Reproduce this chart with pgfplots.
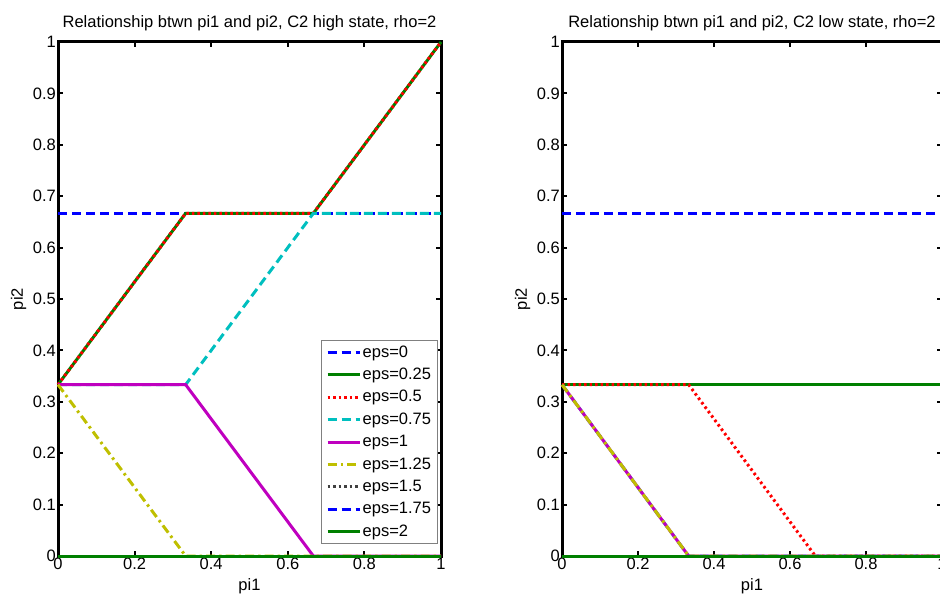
\documentclass[border=0pt]{standalone}
\usepackage{pgfplots}
\pgfplotsset{compat=1.18}
\usepackage{fontspec}
\setmainfont{Liberation Sans}
\definecolor{mb}{rgb}{0,0,1}
\definecolor{mg}{rgb}{0,0.5,0}
\definecolor{mr}{rgb}{1,0,0}
\definecolor{mc}{rgb}{0,0.75,0.75}
\definecolor{mm}{rgb}{0.75,0,0.75}
\definecolor{my}{rgb}{0.75,0.75,0}
\definecolor{mk}{rgb}{0.25,0.25,0.25}
\newcommand{\mfont}{\fontsize{16.5}{18}\selectfont}
\pgfplotsset{
  mlab/.style={
    scale only axis, set layers, clip=false,
    width=#1, height=514pt,
    xmin=0, xmax=1, ymin=0, ymax=1,
    xtick={0,0.2,...,1}, ytick={0,0.1,...,1},
    tick pos=both, xticklabel pos=lower, yticklabel pos=left,
    tick align=inside, major tick length=5pt,
    every tick/.style={black, line width=2pt},
    axis line style={black, line width=3pt},
    /pgf/number format/assume math mode=true,
    tick label style={font=\mfont},
    yticklabel style={inner sep=2pt},
    xticklabel style={inner sep=2pt},
    title style={font=\mfont, at={(0.5,1)}, anchor=south, yshift=2pt},
    xlabel=pi1, ylabel=pi2,
    every axis x label/.style={font=\mfont, at={(ticklabel cs:0.5)}, anchor=north, yshift=-3pt},
    every axis y label/.style={font=\mfont, at={(ticklabel cs:0.5)}, anchor=south, rotate=90, yshift=1pt},
    legend image code/.code={\draw[##1] (0pt,0pt) -- (32pt,0pt);},
    legend cell align=left,
    legend style={font=\mfont, draw=gray, line width=0.8pt,
      row sep=4.4pt, inner xsep=5pt, inner ysep=3pt,
      nodes={inner sep=1.5pt, text height=12pt, text depth=3pt}},
  },
  epsa/.style={draw=mb, line width=3pt, dash pattern=on 9pt off 5pt},
  epsb/.style={draw=mg, line width=3pt, solid},
  epsc/.style={draw=mr, line width=3pt, dash pattern=on 2.5pt off 3pt},
  epsd/.style={draw=mc, line width=3pt, dash pattern=on 9pt off 5pt},
  epse/.style={draw=mm, line width=3pt, solid},
  epsf/.style={draw=my, line width=3pt, dash pattern=on 9pt off 4pt on 2.5pt off 4pt},
  epsg/.style={draw=mk, line width=3pt, dash pattern=on 2.5pt off 3pt},
  epsh/.style={draw=mb, line width=3pt, dash pattern=on 9pt off 5pt},
  epsi/.style={draw=mg, line width=3pt, solid},
}
\begin{document}
\begin{tikzpicture}[x=1pt,y=1pt]
\begin{axis}[mlab=383pt, at={(58pt,42pt)}, anchor=south west,
  title={Relationship btwn pi1 and pi2, C2 high state, rho=2},
  legend style={at={(0.992,0.420)}, anchor=north east}]
\addplot[epsa] coordinates {(0,0.6667) (1,0.6667)};
\addplot[epsb] coordinates {(0,0.3333) (0.3333,0.6667) (0.6667,0.6667) (1,1)};
\addplot[epsc] coordinates {(0,0.3333) (0.3333,0.6667) (0.6667,0.6667) (1,1)};
\addplot[epsd] coordinates {(0,0.3333) (0.3333,0.3333) (0.6667,0.6667) (1,0.6667)};
\addplot[epse] coordinates {(0,0.3333) (0.3333,0.3333) (0.6667,0) (1,0)};
\addplot[epsf] coordinates {(0,0.3333) (0.3333,0) (1,0)};
\addplot[epsg] coordinates {(0,0) (1,0)};
\addplot[epsh] coordinates {(0,0) (1,0)};
\addplot[epsi] coordinates {(0,0) (1,0)};
\legend{eps=0,eps=0.25,eps=0.5,eps=0.75,eps=1,eps=1.25,eps=1.5,eps=1.75,eps=2}
\end{axis}
\begin{axis}[mlab=380pt, at={(562pt,42pt)}, anchor=south west,
  title={Relationship btwn pi1 and pi2, C2 low state, rho=2}]
\addplot[epsa] coordinates {(0,0.6667) (1,0.6667)};
\addplot[epsb] coordinates {(0,0.3333) (1,0.3333)};
\addplot[epsc] coordinates {(0,0.3333) (0.3333,0.3333) (0.6667,0) (1,0)};
\addplot[epsd] coordinates {(0,0.3333) (0.3333,0) (1,0)};
\addplot[epse] coordinates {(0,0.3333) (0.3333,0) (1,0)};
\addplot[epsf] coordinates {(0,0.3333) (0.3333,0) (1,0)};
\addplot[epsg] coordinates {(0,0) (1,0)};
\addplot[epsh] coordinates {(0,0) (1,0)};
\addplot[epsi] coordinates {(0,0) (1,0)};
\end{axis}
\pgfresetboundingbox
\useasboundingbox (0,0) rectangle (940,598);
\end{tikzpicture}
\end{document}
